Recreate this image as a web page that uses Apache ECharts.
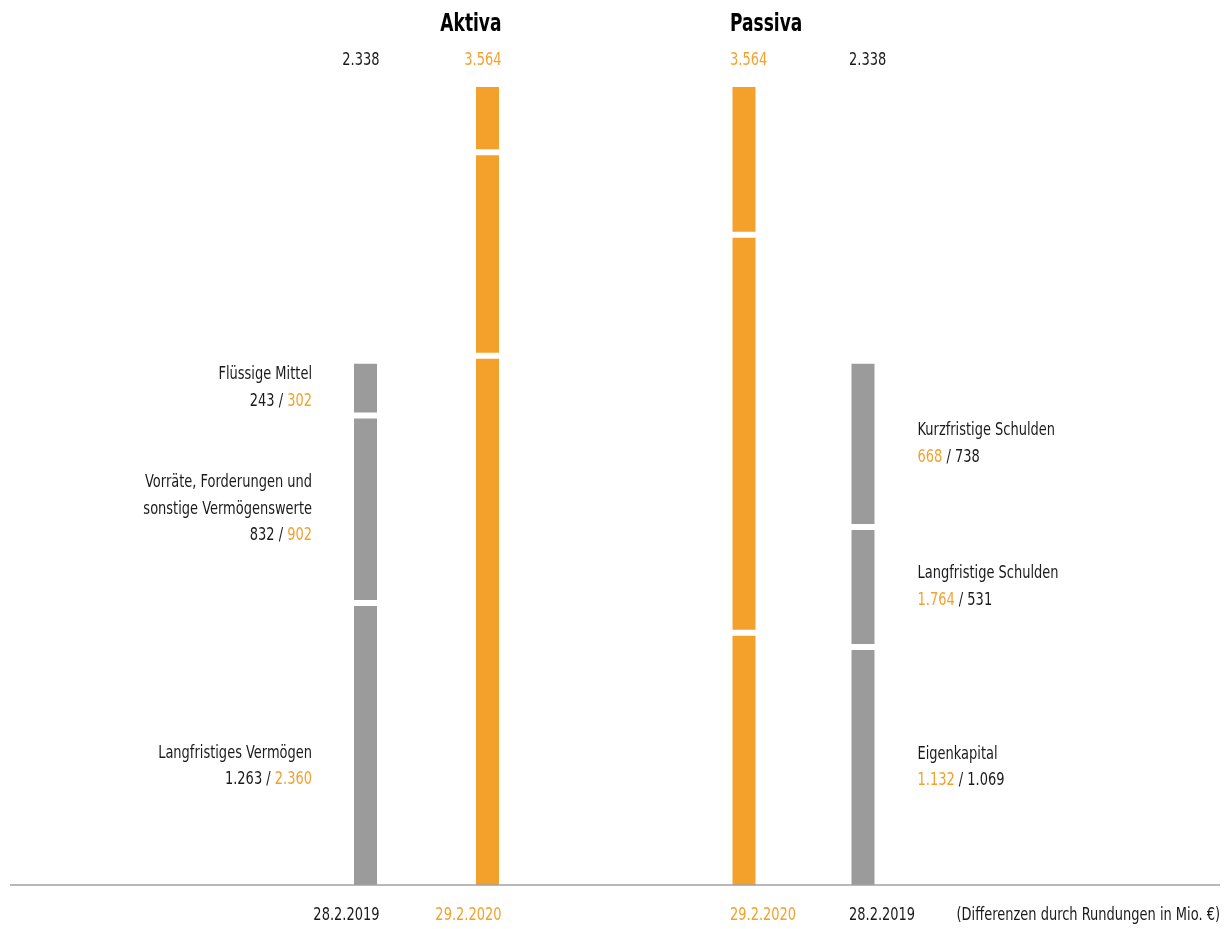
<!DOCTYPE html>
<html>
<head>
<meta charset="utf-8">
<script src="https://cdn.jsdelivr.net/npm/echarts@6/dist/echarts.min.js"></script>
<style>
html,body{margin:0;padding:0;background:#fff;}
#c{width:1230px;height:929px;}
</style>
</head>
<body>
<div id="c"></div>
<script>
const aktivaCats = ['28.2.2019', '29.2.2020'];
const passivaCats = ['29.2.2020', '28.2.2019'];
const aktivaNames = ['Langfristiges Vermögen', 'Vorräte, Forderungen und\nsonstige Vermögenswerte', 'Flüssige Mittel'];
const passivaNames = ['Eigenkapital', 'Langfristige Schulden', 'Kurzfristige Schulden'];
const aktiva2019 = [1263, 832, 243];
const aktiva2020 = [2360, 902, 302];
const passiva2020 = [1132, 1764, 668];
const passiva2019 = [1069, 531, 738];
const totals2019 = 2338;
const totals2020 = 3564;
const titles = ['Aktiva', 'Passiva'];
const footnote = '(Differenzen durch Rundungen in Mio. €)';

const ORANGE = '#f4a12c';
const GRAY = '#9c9b9b';
const TEXT = '#1a1a1a';
const FONT = "'Liberation Sans Narrow', 'DejaVu Sans Condensed', sans-serif";
const SX = 0.85;

function fmt(v) {
  return String(v).replace(/\B(?=(\d{3})+(?!\d))/g, '.');
}

const chart = echarts.init(document.getElementById('c'), null, {renderer: 'canvas'});

const series = [];
for (let i = 0; i < 3; i++) {
  series.push({
    type: 'bar', stack: 'a', xAxisIndex: 0, yAxisIndex: 0, barWidth: 29,
    itemStyle: {borderColor: '#fff', borderWidth: 3},
    data: [
      {value: aktiva2019[i], itemStyle: {color: GRAY}},
      {value: aktiva2020[i], itemStyle: {color: ORANGE}}
    ]
  });
}
for (let i = 0; i < 3; i++) {
  series.push({
    type: 'bar', stack: 'p', xAxisIndex: 1, yAxisIndex: 1, barWidth: 29,
    itemStyle: {borderColor: '#fff', borderWidth: 3},
    data: [
      {value: passiva2020[i], itemStyle: {color: ORANGE}},
      {value: passiva2019[i], itemStyle: {color: GRAY}}
    ]
  });
}

const gridTop = 76.0, gridBottom = 41;
chart.setOption({
  animation: false,
  backgroundColor: '#fff',
  grid: [
    {left: 304.5, width: 244, top: gridTop, bottom: gridBottom},
    {left: 684.5, width: 238, top: gridTop, bottom: gridBottom}
  ],
  xAxis: [
    {type: 'category', gridIndex: 0, data: aktivaCats, show: false},
    {type: 'category', gridIndex: 1, data: passivaCats, show: false}
  ],
  yAxis: [
    {type: 'value', gridIndex: 0, min: 0, max: 3600, show: false},
    {type: 'value', gridIndex: 1, min: 0, max: 3600, show: false}
  ],
  series: series
});

// annotation texts positioned from the library's scales
const halfBar = 11.5;
const y0 = chart.convertToPixel({yAxisIndex: 0}, 0) - 3;
const graphics = [];
const rich = {
  g: {fontFamily: FONT, fontSize: 17, fill: TEXT, color: TEXT},
  o: {fontFamily: FONT, fontSize: 17, fill: ORANGE, color: ORANGE}
};
function txt(x, y, text, color, align, size, weight, sx) {
  graphics.push({type: 'text', x: x, y: y, z: 100, scaleX: sx || SX,
    style: {text: text, fill: color, font: (weight || 'normal') + ' ' + (size || 17) + 'px ' + FONT,
            textAlign: align, textVerticalAlign: 'middle', rich: rich}});
}
const totalsA = [totals2019, totals2020];
const colorsA = [TEXT, ORANGE];
aktivaCats.forEach((c, i) => {
  const cx = chart.convertToPixel({xAxisIndex: 0}, i);
  const xr = cx + halfBar + 2.5;
  txt(xr, 60.5, fmt(totalsA[i]), colorsA[i], 'right');
  txt(xr, 915.5, c, colorsA[i], 'right');
  if (i === 1) txt(xr, 24.5, titles[0], '#000', 'right', 24, 'bold', 0.79);
});
const totalsP = [totals2020, totals2019];
const colorsP = [ORANGE, TEXT];
passivaCats.forEach((c, i) => {
  const cx = chart.convertToPixel({xAxisIndex: 1}, i);
  const xl = cx - halfBar - 2.5;
  txt(xl, 60.5, fmt(totalsP[i]), colorsP[i], 'left');
  txt(xl, 915.5, c, colorsP[i], 'left');
  if (i === 0) txt(xl, 24.5, titles[1], '#000', 'left', 24, 'bold', 0.79);
});

// segment labels (gray bars), vertically centred on each segment
const LH = 26.5;
function segLabels(xAxisIndex, yAxisIndex, catIdx, vals, names, lineFn, side, extraOffsets) {
  const cx = chart.convertToPixel({xAxisIndex: xAxisIndex}, catIdx);
  let cum = 0;
  vals.forEach((v, i) => {
    const mid = chart.convertToPixel({yAxisIndex: yAxisIndex}, cum + v / 2) + (extraOffsets[i] || 0);
    cum += v;
    const lines = names[i].split('\n');
    lines.push(lineFn(i));
    const first = mid - (lines.length - 1) * LH / 2;
    const x = side === 'left' ? cx - halfBar - 42 : cx + halfBar + 43;
    lines.forEach((ln, k) => txt(x, first + k * LH, ln, TEXT, side === 'left' ? 'right' : 'left'));
  });
}
segLabels(0, 0, 0, aktiva2019, aktivaNames,
  i => '{g|' + fmt(aktiva2019[i]) + ' / }{o|' + fmt(aktiva2020[i]) + '}', 'left', [21, 0, 0]);
segLabels(1, 1, 1, passiva2019, passivaNames,
  i => '{o|' + fmt(passiva2020[i]) + '}{g| / ' + fmt(passiva2019[i]) + '}', 'right', [0, 0, 0]);

txt(1220, 915.5, footnote, TEXT, 'right');
graphics.push({type: 'line', z: 100, shape: {x1: 10, y1: y0, x2: 1220, y2: y0},
  style: {stroke: '#a0a0a0', lineWidth: 1.5}});
chart.setOption({graphic: graphics});
</script>
</body>
</html>
